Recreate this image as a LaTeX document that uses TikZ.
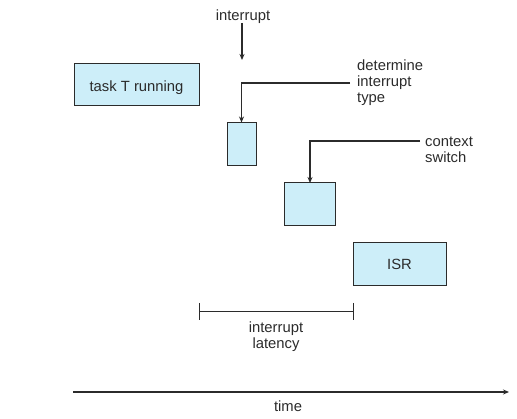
\documentclass[tikz,border=0pt]{standalone}
\usepackage{fontspec}
\setmainfont{Liberation Sans}
\usetikzlibrary{arrows.meta}
\definecolor{boxfill}{HTML}{CDEEF9}
\definecolor{ink}{HTML}{2B2B2B}
\begin{document}
\begin{tikzpicture}[x=1pt,y=-1pt,
  every node/.style={font=\fontsize{14.8}{16}\selectfont, text=ink},
  phase/.style={draw=ink, line width=1pt, fill=boxfill, inner sep=0pt},
  conn/.style={draw=ink, line width=1.3pt, -{Stealth[length=6pt,width=5pt]}},
  lbl/.style={align=left, anchor=base west, inner sep=0pt}]
\useasboundingbox (0,0) rectangle (517,419);

% execution phases along the time line
\node[phase, minimum width=125pt, minimum height=42pt] (task) at (136.5,85) {};
\node[anchor=base, inner sep=0pt] (tasktxt) at (136.5,92) {task T running};
\node[phase, minimum width=29pt, minimum height=43pt] (det) at (241.5,144.5) {};
\node[phase, minimum width=51pt, minimum height=43pt] (ctx) at (309.5,204.5) {};
\node[phase, minimum width=93pt, minimum height=43pt] (isr) at (399.5,264.5) {};
\node[anchor=base, inner sep=0pt] (isrtxt) at (399.5,270) {ISR};

% incoming interrupt
\node[anchor=base, inner sep=0pt] (intr) at (243,20.5) {interrupt};
\coordinate (intrTip) at (242,60);
\draw[conn] (242,23) -- (intrTip);

% determine interrupt type (base anchor sits on the last line)
\node[lbl] (detlbl) at (357,103) {determine\\interrupt\\type};
\coordinate (detTurn) at (det.north |- 0,83);
\draw[conn] (350,83) -- (detTurn) -- (det.north);

% context switch
\node[lbl] (ctxlbl) at (425,163) {context\\switch};
\coordinate (ctxTurn) at (310,141);
\draw[conn] (420,141) -- (ctxTurn) -- (310,183);

% interrupt latency span
\coordinate (latA) at (199,312);
\coordinate (latB) at (353,312);
\draw[ink, line width=1pt] (latA) -- (latB)
  (latA |- 0,303) -- (latA |- 0,320)
  (latB |- 0,303) -- (latB |- 0,320);
\node[align=center, anchor=base, inner sep=0pt] (latlbl) at (276,348.5) {interrupt\\latency};

% time axis
\coordinate (t0) at (73,392);
\coordinate (t1) at (509,392);
\draw[conn] (t0) -- (t1);
\node[anchor=base, inner sep=0pt] (time) at (288,412) {time};
\end{tikzpicture}
\end{document}
